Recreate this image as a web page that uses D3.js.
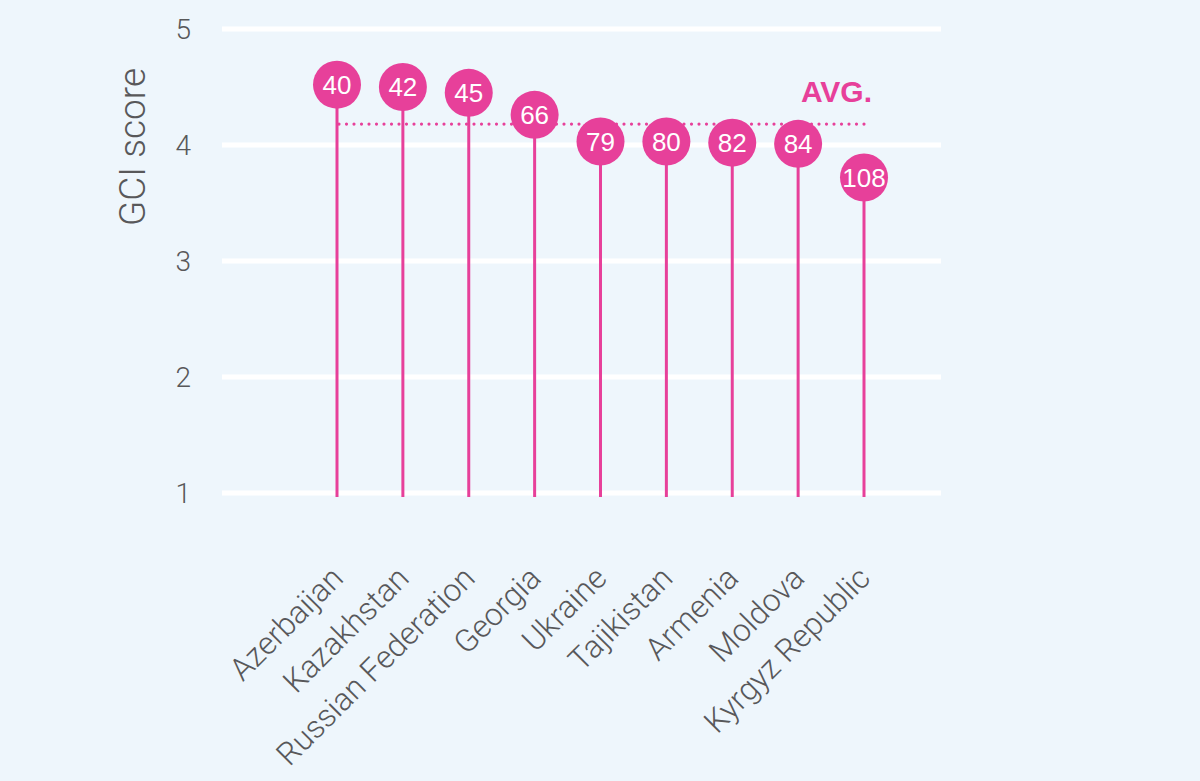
<!DOCTYPE html>
<html>
<head>
<meta charset="utf-8">
<script src="https://cdn.jsdelivr.net/npm/d3@7"></script>
<style>
  html, body { margin: 0; padding: 0; background: #eef6fc; }
  svg { display: block; font-family: "Liberation Sans", Arial, sans-serif; }
  .light { font-family: Roboto, "Liberation Sans", sans-serif; font-weight: 300; }
</style>
</head>
<body>
<script>
(function () {
  var countries = ["Azerbaijan", "Kazakhstan", "Russian Federation", "Georgia", "Ukraine",
                   "Tajikistan", "Armenia", "Moldova", "Kyrgyz Republic"];
  var scores = [4.52, 4.50, 4.45, 4.26, 4.03, 4.03, 4.02, 4.01, 3.72];
  var ranks = [40, 42, 45, 66, 79, 80, 82, 84, 108];
  var yTicks = [1, 2, 3, 4, 5];
  var average = 4.18;

  var pink = "#e7409a";
  var grey = "#58585a";

  var data = countries.map(function (c, i) {
    return { name: c, score: scores[i], rank: ranks[i] };
  });

  var svg = d3.select("body")
    .append("svg")
    .attr("width", 1200)
    .attr("height", 781);

  svg.append("rect")
    .attr("width", 1200)
    .attr("height", 781)
    .attr("fill", "#eef6fc");

  var x = d3.scalePoint()
    .domain(countries)
    .range([337, 864]);

  var y = d3.scaleLinear()
    .domain([1, 5])
    .range([493, 29]);

  // grid lines
  svg.selectAll("line.grid")
    .data(yTicks)
  .enter()
    .append("line")
    .attr("class", "grid")
    .attr("x1", 222)
    .attr("x2", 941)
    .attr("y1", function (d) { return y(d); })
    .attr("y2", function (d) { return y(d); })
    .style("stroke", "white")
    .style("stroke-width", 5);

  svg.selectAll("text.ytick")
    .data(yTicks)
  .enter()
    .append("text")
    .attr("class", "ytick light")
    .attr("x", 191)
    .attr("y", function (d) { return y(d); })
    .attr("dy", "0.36em")
    .attr("text-anchor", "end")
    .style("font-size", "28px")
    .style("fill", grey)
    .text(function (d) { return d; });

  svg.append("text")
    .attr("class", "light")
    .attr("transform", "translate(132," + 147 + ") rotate(-90)")
    .attr("text-anchor", "middle")
    .attr("dy", "0.35em")
    .style("font-size", "37px")
    .style("fill", grey)
    .text("GCI score");

  // average line
  svg.append("line")
    .attr("x1", x(countries[0]) + 2)
    .attr("x2", x(countries[countries.length - 1]) + 1)
    .attr("y1", y(average))
    .attr("y2", y(average))
    .style("stroke", pink)
    .style("stroke-width", 3.2)
    .style("stroke-linecap", "round")
    .style("stroke-dasharray", "0,7.5");

  svg.append("text")
    .attr("x", 872)
    .attr("y", 102)
    .attr("text-anchor", "end")
    .style("font-size", "30px")
    .style("font-weight", "bold")
    .style("fill", pink)
    .text("AVG.");

  // stems
  svg.selectAll("line.stem")
    .data(data)
  .enter()
    .append("line")
    .attr("class", "stem")
    .attr("x1", function (d) { return x(d.name); })
    .attr("x2", function (d) { return x(d.name); })
    .attr("y1", function (d) { return y(d.score); })
    .attr("y2", y(1) + 4)
    .style("stroke", pink)
    .style("stroke-width", 3);

  svg.selectAll("circle.dot")
    .data(data)
  .enter()
    .append("circle")
    .attr("class", "dot")
    .attr("cx", function (d) { return x(d.name); })
    .attr("cy", function (d) { return y(d.score); })
    .attr("r", 24)
    .style("fill", pink);

  svg.selectAll("text.rank")
    .data(data)
  .enter()
    .append("text")
    .attr("class", "rank")
    .attr("x", function (d) { return x(d.name); })
    .attr("y", function (d) { return y(d.score); })
    .attr("dy", "0.36em")
    .attr("text-anchor", "middle")
    .style("font-size", "26px")
    .style("fill", "white")
    .text(function (d) { return d.rank; });

  // category labels
  svg.selectAll("text.cat")
    .data(countries)
  .enter()
    .append("text")
    .attr("class", "cat light")
    .attr("transform", function (d) { return "translate(" + (x(d) + 8) + ",580) rotate(-45)"; })
    .attr("text-anchor", "end")
    .style("font-size", "31.5px")
    .style("fill", grey)
    .text(function (d) { return d; });
})();
</script>
</body>
</html>
